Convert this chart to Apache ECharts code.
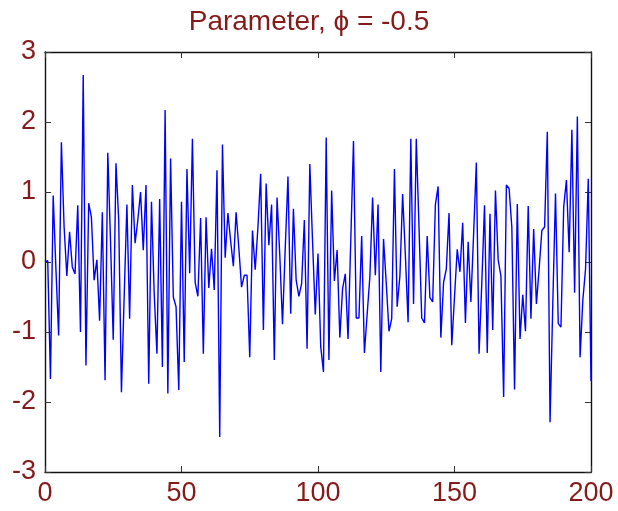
<!DOCTYPE html>
<html>
<head>
<meta charset="utf-8">
<script src="https://cdn.jsdelivr.net/npm/echarts@6/dist/echarts.min.js"></script>
<style>html,body{margin:0;padding:0;background:#fff}#c{width:618px;height:511px}</style>
</head>
<body>
<div id="c"></div>
<script>
// series values, x = 0..200
const values = [
 0, 0.02, -1.67, 0.95, -0.1, -1.05, 1.71, 0.5, -0.2, 0.43,
 -0.07, -0.17, 0.81, -1.0, 2.67, -1.48, 0.84, 0.64, -0.26, 0.03,
 -0.84, 0.71, -1.69, 1.56, 0.3, -1.11, 1.41, 0.6, -1.86, -0.5,
 0.82, -0.81, 1.1, 0.27, 0.6, 1.0, 0.17, 1.1, -1.74, 0.86,
 -0.45, -1.31, 0.9, -1.5, 2.17, -1.88, 1.48, -0.5, -0.64, -1.83,
 0.86, -1.43, 1.33, -0.16, 1.76, -0.29, -0.49, 0.63, -1.31, 0.64,
 -0.37, 0.19, -0.4, 1.31, -2.5, 1.68, 0.06, 0.7, 0.3, -0.06,
 0.71, 0.2, -0.36, -0.19, -0.19, -1.36, 0.45, -0.11, 0.5, 1.26,
 -0.97, 1.12, 0.24, 0.82, -1.4, 0.92, 0.1, -0.89, 0.2, 1.22,
 -0.74, 0.76, -0.26, -0.49, -0.31, 0.6, -1.24, 1.4, 0.3, -0.75,
 0.12, -1.21, -1.57, 1.78, -1.4, 1.02, -0.27, 0.17, -1.08, -0.38,
 -0.17, -1.1, 0.3, 1.73, -0.8, -0.8, 0.37, -1.3, -0.75, -0.21,
 0.92, -0.19, 0.82, -1.57, 0.33, -0.3, -0.99, -0.81, 1.33, -0.64,
 -0.2, 0.97, 0.1, -0.86, 1.76, -0.6, 1.76, 0.5, -0.8, -0.87,
 0.37, -0.51, -0.57, 0.82, 1.08, -1.08, -0.29, -0.1, 0.7, -1.19,
 -0.5, 0.18, -0.14, 0.56, -0.87, 0.29, -0.57, 0.4, 1.42, -1.31,
 -0.3, 0.81, -1.3, 0.69, -0.97, 1.02, 0.03, -0.2, -1.93, 1.1,
 1.05, 0.5, -1.82, 0.83, -1.1, -0.47, -0.99, 0.8, -0.81, 0.47,
 -0.6, -0.1, 0.45, 0.5, 1.86, -2.29, -0.6, 0.98, -0.88, -0.93,
 0.79, 1.17, 0.14, 1.89, -0.44, 2.08, -1.36, -0.55, -0.1, 1.19,
 -1.7
];
const xTicks = [0, 50, 100, 150, 200];
const yTicks = [-3, -2, -1, 0, 1, 2, 3];
const titleText = 'Parameter, \u03d5 = -0.5';

const labelColor = '#851a1a';
const font = 'Liberation Sans, Arial, Helvetica, sans-serif';
const pts = values.map((v, i) => [i, v]);

const axisLine = { show: true, onZero: false, lineStyle: { color: '#111', width: 1.4 } };
const tick = { show: true, inside: true, length: 6, lineStyle: { color: '#333', width: 1 } };

const chart = echarts.init(document.getElementById('c'), null, { renderer: 'canvas' });
chart.setOption({
  animation: false,
  backgroundColor: '#fff',
  title: {
    text: titleText, left: 'center', top: 3,
    textStyle: { color: labelColor, fontSize: 28, fontWeight: 'normal', fontFamily: font }
  },
  grid: { left: 45, right: 27, top: 52, bottom: 39, containLabel: false },
  xAxis: [
    { type: 'value', position: 'bottom', min: xTicks[0], max: xTicks[xTicks.length-1], interval: 50,
      axisLine, axisTick: tick, splitLine: { show: false },
      axisLabel: { color: labelColor, fontSize: 27, fontFamily: font, margin: 8 } },
    { type: 'value', position: 'top', min: xTicks[0], max: xTicks[xTicks.length-1], interval: 50,
      axisLine, axisTick: tick, splitLine: { show: false }, axisLabel: { show: false } }
  ],
  yAxis: [
    { type: 'value', position: 'left', min: yTicks[0], max: yTicks[yTicks.length-1], interval: 1,
      axisLine, axisTick: tick, splitLine: { show: false },
      axisLabel: { color: labelColor, fontSize: 27, fontFamily: font, margin: 9 } },
    { type: 'value', position: 'right', min: yTicks[0], max: yTicks[yTicks.length-1], interval: 1,
      axisLine, axisTick: tick, splitLine: { show: false }, axisLabel: { show: false } }
  ],
  series: [{
    type: 'line', data: pts, xAxisIndex: 0, yAxisIndex: 0,
    showSymbol: false, symbol: 'none',
    lineStyle: { color: '#0000ff', width: 1.4 }
  }]
});
</script>
</body>
</html>
